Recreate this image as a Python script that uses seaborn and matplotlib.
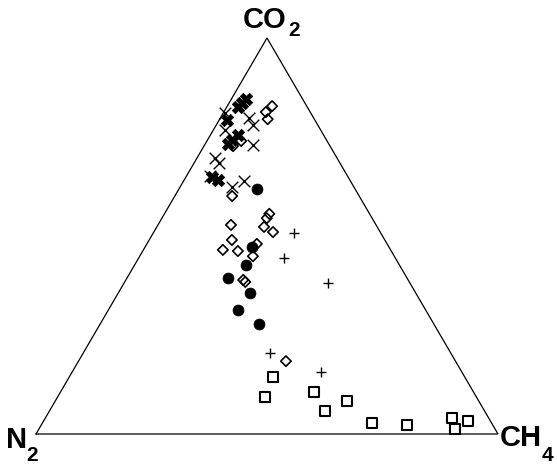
import numpy as np
import pandas as pd
import matplotlib
matplotlib.use("Agg")
import matplotlib.pyplot as plt
import seaborn as sns

sns.set_theme(style="white")
plt.rcParams["font.family"] = ["Liberation Sans", "DejaVu Sans"]

# Gas compositions (percent) for each sample group: CO2, CH4, N2
heavy_x_co2 = [84.6, 83.6, 82.6, 79.3, 75.5, 74.2, 73.2, 64.9, 64.1]
heavy_x_ch4 = [3.2, 2.8, 2.4, 1.7, 6.0, 5.3, 4.9, 5.6, 7.3]
heavy_x_n2 = [12.2, 13.6, 15.0, 19.0, 18.5, 20.5, 21.9, 29.5, 28.6]

thin_x_co2 = [81.1, 79.8, 78.0, 76.8, 73.0, 69.7, 68.4, 65.2, 62.4, 63.9]
thin_x_ch4 = [0.4, 6.2, 8.0, 2.5, 10.5, 3.9, 5.4, 5.1, 11.2, 13.1]
thin_x_n2 = [18.5, 14.0, 14.0, 20.7, 16.5, 26.4, 26.2, 29.7, 26.4, 23.0]

diamond_co2 = [82.8, 81.3, 79.5, 74.0, 72.7, 60.1, 55.6, 54.5, 52.8, 52.3,
               51.0, 49.0, 48.0, 46.5, 46.2, 44.9, 38.9, 38.4, 18.4]
diamond_ch4 = [9.7, 9.1, 10.4, 7.4, 6.3, 12.4, 22.7, 22.7, 15.8, 23.2,
               25.8, 17.9, 23.8, 17.2, 20.6, 24.5, 25.4, 26.1, 44.9]
diamond_n2 = [7.5, 9.6, 10.1, 18.6, 21.0, 27.5, 21.7, 22.8, 31.4, 24.5,
              23.2, 33.1, 28.2, 36.3, 33.2, 30.6, 35.7, 35.5, 36.7]

circle_co2 = [61.9, 47.2, 42.7, 39.4, 35.6, 31.3, 27.8]
circle_ch4 = [16.9, 23.1, 24.1, 21.9, 28.5, 28.1, 34.4]
circle_n2 = [21.2, 29.7, 33.2, 38.7, 35.9, 40.6, 37.8]

plus_co2 = [50.8, 44.4, 38.1, 20.5, 15.7]
plus_ch4 = [30.5, 31.5, 44.1, 40.4, 53.9]
plus_n2 = [18.7, 24.1, 17.8, 39.1, 30.4]

square_co2 = [14.4, 9.3, 10.6, 8.3, 5.8, 2.8, 2.3, 4.0, 3.3, 1.3]
square_ch4 = [44.1, 44.9, 54.9, 63.2, 59.7, 71.3, 79.2, 88.0, 91.9, 90.1]
square_n2 = [41.5, 45.8, 34.5, 28.5, 34.5, 25.9, 18.5, 8.0, 4.8, 8.6]

H = np.sqrt(3) / 2


def to_xy(co2, ch4, n2):
    co2 = np.asarray(co2, float)
    ch4 = np.asarray(ch4, float)
    n2 = np.asarray(n2, float)
    tot = co2 + ch4 + n2
    a, b = co2 / tot, ch4 / tot
    return pd.DataFrame({"x": b + a / 2, "y": a * H})


fig = plt.figure(figsize=(5.57, 4.67), dpi=100)
ax = fig.add_axes([0, 0, 1, 1])
ax.set_xlim(-36 / 462, 521 / 462)
ax.set_ylim(-(467 - 434) * H / 396, 434 * H / 396)
ax.axis("off")

# Triangle frame: N2 (left), CH4 (right), CO2 (top)
ax.plot([0, 1, 0.5, 0], [0, 0, H, 0], color="black", lw=0.9,
        solid_joinstyle="miter", zorder=1)

groups = [
    (to_xy(square_co2, square_ch4, square_n2),
     dict(marker="s", s=55, facecolor="none", edgecolor="black", linewidth=1.5)),
    (to_xy(plus_co2, plus_ch4, plus_n2),
     dict(marker="+", s=60, color="black", linewidth=1.0)),
    (to_xy(circle_co2, circle_ch4, circle_n2),
     dict(marker="o", s=62, color="black", edgecolor="black", linewidth=0.5)),
    (to_xy(diamond_co2, diamond_ch4, diamond_n2),
     dict(marker="D", s=28, facecolor="none", edgecolor="black", linewidth=1.2)),
    (to_xy(thin_x_co2, thin_x_ch4, thin_x_n2),
     dict(marker="x", s=70, color="black", linewidth=1.0)),
    (to_xy(heavy_x_co2, heavy_x_ch4, heavy_x_n2),
     dict(marker="X", s=80, color="black", edgecolor="black", linewidth=0.5)),
]
for df, kw in groups:
    sns.scatterplot(data=df, x="x", y="y", ax=ax, legend=False, zorder=3, **kw)


# Vertex labels with subscripts
def px(xp, yp):
    return (xp - 36) / 462, (434 - yp) * H / 396


lab = dict(fontsize=21, fontweight="bold", color="black", ha="left", va="baseline")
sub = dict(fontsize=15, fontweight="bold", color="black", ha="left", va="baseline")
ax.text(*px(243, 28), "CO", **lab)
ax.text(*px(288, 36), "2", **sub)
ax.text(*px(6, 448), "N", **lab)
ax.text(*px(26, 461), "2", **sub)
ax.text(*px(500, 446), "CH", **lab)
ax.text(*px(542, 461), "4", **sub)

fig.savefig("out.png", dpi=100, facecolor="white")
